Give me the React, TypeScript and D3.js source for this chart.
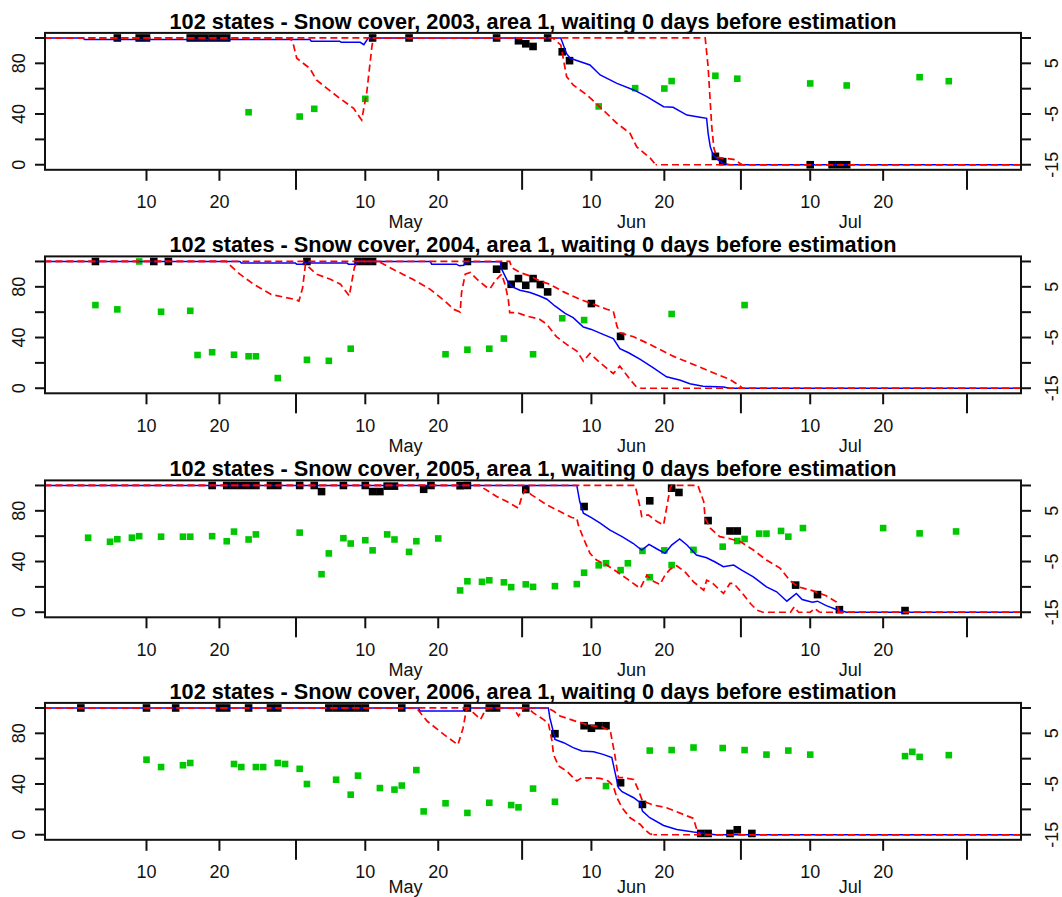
import React from "react";
import * as d3 from "d3";

// ---------- axis definitions ----------
// day index: 1 = 1 April
const monthStarts = [1, 31, 62, 92, 123];
const monthNames = ["Apr", "May", "Jun", "Jul", "Aug"];
const labelledMonths = ["May", "Jun", "Jul"];
const majorTickMonths = ["May", "Jun", "Jul", "Aug"];
const minorTickDays = [10, 20];
const leftTicks = [0, 20, 40, 60, 80, 100];
const leftLabels = [0, 40, 80];
const rightTicks = [-15, -10, -5, 0, 5, 10];
const rightLabels = [-15, -5, 5];
const years = [2003, 2004, 2005, 2006];

// ---------- 2003 ----------
const obs2003 = [[6,100],[9,100],[10,100],[16,100],[17,100],[18,100],[19,100],[20,100],[21,100],[41,100],[46,100],[58,100],[61,97.8],[62,95.4],[63,93.3],[65,100],[67,89.1],[68,82.1],[88,6.6],[89,2.4],[101,0],[104,0],[105,0],[106,0]];
const temp2003 = [[24,-4.65],[31,-5.5],[33,-3.97],[40,-2],[72,-3.5],[77,0.1],[81,0.03],[82,1.5],[88,2.55],[91,1.97],[101,1.03],[106,0.63],[116,2.27],[120,1.48]];
const est2003 = [[-4,100],[1.3,100],[1.5,98.8],[32.4,98.8],[32.6,97.4],[36.5,97.4],[36.7,96.6],[39.3,96.6],[39.8,94.7],[40.4,100],[66.8,100],[67.6,87.6],[68.1,84],[70.8,78.7],[72.2,70.8],[74.5,64.2],[76.8,59],[78.6,53.7],[80.9,45.8],[82.2,45.3],[84.1,39.2],[85.9,37.4],[86.8,36.6],[87,24.8],[87.3,14.2],[87.7,7.6],[88.4,3.7],[89.1,1],[90,0],[130,0]];
const upper2003 = [[-4,100],[86.6,100],[87,77.4],[87.5,30],[87.8,12.9],[88.2,5.8],[90.5,4.2],[91.4,1],[91.7,0],[130,0]];
const lower2003 = [[-4,100],[29.7,100],[30.1,95.8],[30.6,84],[32.4,76],[33.3,66.9],[34.7,60.4],[36.5,52.4],[38.4,44.5],[39.5,35.3],[40.2,57],[40.9,93],[41.1,100],[65.7,100],[66.8,94.5],[67.6,69.5],[68.5,62.9],[70.4,55],[72.6,43.2],[74.5,32.7],[76.3,24.8],[77.2,14.2],[79.1,5],[79.8,0],[130,0]];

// ---------- 2004 ----------
const obs2004 = [[3,100],[11,100],[13,100],[32,100],[39,100],[40,100],[41,100],[54,100],[58,93.9],[59,96.5],[60,82],[61,86.5],[62,81.2],[63,86.5],[64,81.8],[65,76],[71,66.8],[75,40.9]];
const temp2004 = [[3,1.4],[6,0.55],[9,10],[12,0.08],[16,0.27],[17,-8.45],[19,-7.9],[22,-8.4],[24,-8.7],[25,-8.7],[28,-13],[32,-9.4],[35,-9.6],[38,-7.2],[51,-8.3],[54,-7.4],[57,-7.2],[59,-5.2],[63,-8.3],[67,-1.2],[70,-1.55],[82,-0.36],[92,1.4]];
const est2004 = [[-4,100],[22.8,100],[23,98.7],[30.4,98.7],[30.6,97.9],[31.4,97.9],[31.6,98.7],[37.5,98.7],[37.7,97.9],[38.7,97.9],[38.9,100],[48.9,100],[49.1,97.9],[52.5,97.9],[52.9,96.6],[53.5,97],[53.8,99.7],[58.5,99.7],[58.7,93.9],[59.6,83.4],[60.1,80.2],[61.2,77.3],[62.6,75.5],[63.9,72.8],[64.9,70.2],[66,64.9],[67.4,59.1],[68.5,55.7],[69.9,48.3],[71,46.4],[72.6,42.5],[74,39.1],[74.9,31.2],[76.1,28],[77.7,22.7],[79.5,16.1],[81.3,9],[83.2,6.3],[84.5,3.5],[86.3,1.6],[89.1,1],[90,0],[130,0]];
const upper2004 = [[-4,100],[59.8,100],[60.1,95],[61.2,91.3],[62.6,88.6],[63.9,84.7],[65.3,82],[67.2,76],[69.4,70.2],[71.7,65.4],[73.1,62.3],[74,60.9],[74.5,49],[74.9,43.8],[76.8,40.6],[79.5,33.2],[82.2,25.3],[85,18.7],[87.7,12.2],[90,6.9],[91.4,1.6],[91.7,0],[130,0]];
const lower2004 = [[-4,100],[20.9,100],[22.8,90],[24.7,82],[27.1,74],[30.4,70],[30.9,68.8],[31.4,79],[31.8,97.9],[33.3,90],[35.2,86],[36.6,82],[37.8,72.8],[38.5,95.2],[38.9,100],[41.8,100],[44.2,92.6],[46.5,86],[48.9,78],[50.9,68.8],[52.1,62.3],[53,60.1],[53.2,75.6],[53.7,90],[54.4,91.3],[55.3,86],[56.7,79.4],[57.1,78.5],[57.8,84.7],[58.7,90],[59.2,81],[59.6,70.2],[59.8,59.6],[60.8,59.6],[62.1,57],[63.9,54.4],[64.9,50.4],[66.2,40.7],[67.6,34.6],[69,29.3],[69.9,21.4],[70.8,27.5],[72.2,20.1],[74,11.6],[74.9,17.4],[76.3,6.9],[77.2,0.8],[77.7,0],[130,0]];

// ---------- 2005 ----------
const obs2005 = [[19,100],[21,100],[22,100],[23,100],[24,100],[25,100],[27,100],[28,100],[31,100],[33,100],[34,95.2],[37,100],[40,100],[41,95.2],[42,95.2],[43,99.5],[44,99.5],[48,97],[49,100],[53,99.8],[54,100],[62,96.8],[70,83.4],[79,87.9],[82,97.9],[83,94.5],[87,72.3],[90,64.1],[91,64.1],[99,21.4],[102,13.9],[105,2],[114,1.3]];
const temp2005 = [[2,-0.3],[5,-1.1],[6,-0.6],[8,-0.3],[9,0],[12,-0.1],[15,-0.1],[16,-0.1],[19,0],[21,-1],[22,0.9],[24,-0.65],[25,0.35],[31,0.7],[34,-7.5],[35,-3.4],[37,-0.4],[38,-1.45],[40,-0.8],[41,-2.8],[43,0.35],[44,-0.65],[46,-3.1],[47,-1],[50,-0.45],[53,-10.7],[54,-8.9],[56,-9],[57,-8.7],[59,-9.1],[60,-10.05],[62,-9.5],[63,-10],[66,-9.85],[69,-9.45],[70,-7.2],[72,-5.75],[73,-5.35],[75,-6.7],[76,-5.35],[78,-2.9],[79,-8.1],[81,-2.8],[82,-5.7],[85,-2.7],[89,-2.07],[91,-0.95],[92,-0.55],[94,0.5],[95,0.5],[97,1.03],[98,-0.1],[100,1.6],[111,1.6],[116,0.55],[121,0.93]];
const est2005 = [[-4,100],[69,100],[69.4,87.3],[69.9,78.1],[71,74.7],[72.2,70.2],[73.5,64.9],[75.2,59.6],[76.7,54.4],[77.9,49.1],[78.9,53.6],[80,49.9],[81.1,46.5],[82,53],[83.1,57.8],[84.1,53],[85.4,45.1],[86.8,43],[87.9,39.8],[89.1,35.9],[90.5,37.2],[91.6,33.3],[93.2,27.9],[95,20],[96.4,16.1],[97.8,8.7],[99.1,14.8],[99.9,10],[101.3,7.9],[102,8.7],[103.2,5.2],[104.6,2.1],[106,0],[130,0]];
const upper2005 = [[-4,100],[77,100],[77.7,82],[77.9,75.5],[78.8,76.8],[80,71.5],[80.9,68.9],[81.3,82],[81.8,98],[82,100],[85.6,100],[86.4,87.3],[86.6,74.2],[87.3,66.3],[88.6,59.6],[90,58],[91.4,55.7],[93.2,49.1],[95,41.2],[96.9,34.6],[98.2,25],[99.4,20],[101.3,17],[103.2,13],[104.6,8],[104.9,1],[105.2,0],[130,0]];
const lower2005 = [[-4,100],[55.8,100],[56.2,97.9],[58,91.3],[59.4,87.3],[61,82.1],[61.4,90],[61.9,96.6],[62.8,92.6],[64.9,84.7],[66.7,79.4],[68.3,74.7],[69,74.2],[69.2,68.9],[69.9,58.4],[70.8,46.5],[71.7,41.2],[73.1,37.2],[74.5,31.9],[75.8,26.7],[77.7,18.8],[78.6,29.3],[79.5,24.5],[80.4,21.9],[81.1,29.3],[81.8,34],[82.7,36.7],[83.9,31.4],[85,24],[86.4,17.4],[86.8,25.3],[87.5,23.5],[89.1,14.8],[90,22.7],[90.5,22.7],[91.6,15.6],[92.8,6.9],[93.7,1.6],[94.5,0],[98.3,0],[98.8,4.2],[99.4,0],[101,0],[101.6,3],[102.3,0],[130,0]];

// ---------- 2006 ----------
const obs2006 = [[1,100],[10,100],[14,100],[20,100],[21,100],[24,100],[27,100],[28,100],[35,100],[36,100],[37,100],[38,100],[39,100],[40,100],[45,100],[54,100],[57,100],[58,100],[62,100],[66,79.7],[70,86],[71,84],[72,86],[73,86],[75,41],[78,23.9],[86,1],[87,1],[90,1],[91,3.9],[93,1]];
const temp2006 = [[10,-0.2],[12,-1.65],[15,-1.3],[16,-0.85],[22,-1.05],[23,-1.65],[25,-1.65],[26,-1.65],[28,-0.85],[29,-1.05],[31,-2],[32,-5],[36,-4.15],[38,-7.1],[39,-3.35],[42,-5.8],[44,-6.1],[45,-5.3],[47,-2.25],[48,-10.4],[51,-8.8],[54,-10.7],[57,-8.7],[60,-9.15],[61,-9.6],[63,-5.9],[66,-8.5],[73,-5.4],[79,1.6],[82,1.7],[85,2.2],[89,2.1],[92,1.7],[95,0.8],[98,1.6],[101,0.8],[114,0.5],[115,1.35],[116,0.35],[120,0.7]];
const est2006 = [[-4,100],[47.3,100],[47.5,97.6],[53.4,97.6],[53.6,100],[65.1,100],[65.3,92.3],[65.7,83.1],[66,75.2],[67.2,72.6],[68.5,68.7],[69.7,66],[71.3,65.5],[72.6,63.4],[73.8,60.8],[74,55.5],[74.4,45],[74.7,37.1],[75.2,33.9],[76.8,29.2],[77.7,25.3],[78,18.7],[79,13.4],[80.9,7.3],[82.7,4.2],[85,2.1],[86.8,0.8],[88,0],[130,0]];
const upper2006 = [[-4,100],[65,100],[65.8,97.6],[66.7,93.7],[68.5,90.2],[69.7,88],[71,86],[72.5,85],[73.6,81.8],[74.2,63.4],[74.7,45],[75.4,45],[76.8,43.6],[77.4,35.8],[78,26.6],[79.5,23.4],[81.3,21.3],[83.6,16],[85,12.9],[85.5,2.9],[86,0],[130,0]];
const lower2006 = [[-4,100],[47,100],[48.5,89.5],[50.8,79],[52.7,71],[53.4,84],[53.9,100],[54.6,97.4],[55.8,91],[56.5,98.7],[57,100],[60.3,100],[61,93.7],[61.7,100],[62.3,100],[63,96.3],[64.4,91],[65.1,88],[65.6,73.9],[65.8,63.4],[66.5,54.2],[67.6,50.3],[68.5,45],[69,42.4],[69.7,45],[72.2,44.5],[73.3,42.4],[74,38.4],[74.5,29.2],[75.2,21.3],[76.3,13.4],[77,10.8],[77.7,8.1],[78.3,4.2],[79,0.8],[79.5,0],[130,0]];

const obsByYear = [obs2003, obs2004, obs2005, obs2006];
const tempByYear = [temp2003, temp2004, temp2005, temp2006];
const estByYear = [est2003, est2004, est2005, est2006];
const upperByYear = [upper2003, upper2004, upper2005, upper2006];
const lowerByYear = [lower2003, lower2004, lower2005, lower2006];

// ---------- layout ----------
const W = 1062;
const H = 897;
const PLOT_L = 45;
const PLOT_R = 1021;
const PLOT_T = 32.9;
const PLOT_B = 169.8;
const panelOffsets = [0, 223.5, 447.5, 670];
const FONT = "'Liberation Sans', Arial, Helvetica, sans-serif";
const DASH = "7 4";
const DASH_PERIOD = 11;

const x = d3.scaleLinear().domain([-3.915, 129.9]).range([PLOT_L, PLOT_R]);

// split a bound series into its moving part and its final flat part at zero
function splitTail(pts: number[][]) {
  let k = pts.length - 1;
  while (k > 0 && pts[k - 1][1] === 0) k--;
  return { main: pts.slice(0, k + 1), tail: pts.slice(k) };
}

function Panel({ i }: { i: number }) {
  const off = panelOffsets[i];
  const y = d3.scaleLinear().domain([-4, 104]).range([PLOT_B + off, PLOT_T + off]);
  const yR = d3.scaleLinear().domain([-16, 11]).range([PLOT_B + off, PLOT_T + off]);
  const line = d3.line<number[]>().x((p) => x(p[0])).y((p) => y(p[1]));
  const clipId = `clip${i}`;
  const bs = 7.6;
  const gs = 6.6;

  const majors = majorTickMonths.map((m) => monthStarts[monthNames.indexOf(m)] - 0.5);
  const minors: { d: number; label: string }[] = [];
  monthStarts.forEach((s) => {
    minorTickDays.forEach((md) => {
      const d = s + md - 1;
      if (x(d) > PLOT_L && x(d) < PLOT_R) minors.push({ d, label: String(md) });
    });
  });
  const monthLabels = labelledMonths.map((m) => ({
    name: m,
    d: monthStarts[monthNames.indexOf(m)] - 0.5 + 15,
  }));
  const monthY = Math.min(228 + off, H - 4.5);

  const bounds = [upperByYear[i], lowerByYear[i]].map(splitTail);

  return (
    <g>
      <defs>
        <clipPath id={clipId}>
          <rect x={PLOT_L} y={PLOT_T + off} width={PLOT_R - PLOT_L} height={PLOT_B - PLOT_T} />
        </clipPath>
      </defs>
      <text
        x={(PLOT_L + PLOT_R) / 2}
        y={28.5 + off}
        textAnchor="middle"
        fontFamily={FONT}
        fontWeight="bold"
        fontSize={21.7}
        fill="#000"
      >
        {`102 states - Snow cover, ${years[i]}, area 1, waiting 0 days before estimation`}
      </text>
      <g clipPath={`url(#${clipId})`}>
        {tempByYear[i].map((p, k) => (
          <rect key={"g" + k} x={x(p[0]) - gs / 2} y={yR(p[1]) - gs / 2} width={gs} height={gs} fill="#00C800" />
        ))}
        {obsByYear[i].map((p, k) => (
          <rect key={"b" + k} x={x(p[0]) - bs / 2} y={y(p[1]) - bs / 2} width={bs} height={bs} fill="#000" />
        ))}
        <path d={line(estByYear[i] as number[][]) || ""} fill="none" stroke="#0000FF" strokeWidth={1.5} />
        {bounds.map((b, k) => {
          const x0 = x(b.tail[0][0]);
          const offset = (x0 - PLOT_L) % DASH_PERIOD;
          return (
            <g key={"bd" + k}>
              <path d={line(b.main) || ""} fill="none" stroke="#FF0000" strokeWidth={1.7} strokeDasharray={DASH} />
              <path
                d={line(b.tail) || ""}
                fill="none"
                stroke="#FF0000"
                strokeWidth={1.7}
                strokeDasharray={DASH}
                strokeDashoffset={offset}
              />
            </g>
          );
        })}
      </g>
      <rect
        x={PLOT_L}
        y={PLOT_T + off}
        width={PLOT_R - PLOT_L}
        height={PLOT_B - PLOT_T}
        fill="none"
        stroke="#111"
        strokeWidth={2}
      />
      {/* left axis */}
      {leftTicks.map((t) => (
        <line key={"lt" + t} x1={PLOT_L} x2={PLOT_L - 10} y1={y(t)} y2={y(t)} stroke="#111" strokeWidth={2} />
      ))}
      {leftLabels.map((t) => (
        <text
          key={"ll" + t}
          x={25.5}
          y={y(t)}
          transform={`rotate(-90, 25.5, ${y(t)})`}
          textAnchor="middle"
          fontFamily={FONT}
          fontSize={18}
          fill="#111"
        >
          {t}
        </text>
      ))}
      {/* right axis */}
      {rightTicks.map((t) => (
        <line key={"rt" + t} x1={PLOT_R} x2={PLOT_R + 10} y1={yR(t)} y2={yR(t)} stroke="#111" strokeWidth={2} />
      ))}
      {rightLabels.map((t) => (
        <text
          key={"rl" + t}
          x={1058}
          y={yR(t)}
          transform={`rotate(-90, 1058, ${yR(t)})`}
          textAnchor="middle"
          fontFamily={FONT}
          fontSize={18}
          fill="#111"
        >
          {t}
        </text>
      ))}
      {/* bottom axis */}
      {majors.map((d) => (
        <line key={"mj" + d} x1={x(d)} x2={x(d)} y1={PLOT_B + off} y2={PLOT_B + off + 20} stroke="#111" strokeWidth={2} />
      ))}
      {minors.map((m) => (
        <g key={"mn" + m.d}>
          <line x1={x(m.d)} x2={x(m.d)} y1={PLOT_B + off} y2={PLOT_B + off + 11} stroke="#111" strokeWidth={2} />
          <text x={x(m.d)} y={208 + off} textAnchor="middle" fontFamily={FONT} fontSize={18} fill="#111">
            {m.label}
          </text>
        </g>
      ))}
      {monthLabels.map((m) => (
        <text key={"ml" + m.name} x={x(m.d)} y={monthY} textAnchor="middle" fontFamily={FONT} fontSize={18} fill="#111">
          {m.name}
        </text>
      ))}
    </g>
  );
}

export default function App() {
  return (
    <div style={{ position: "absolute", left: 0, top: 0 }}>
      <svg width={W} height={H} viewBox={`0 0 ${W} ${H}`} style={{ display: "block", background: "#fff" }}>
        <rect x={0} y={0} width={W} height={H} fill="#fff" />
        {years.map((yr, i) => (
          <Panel key={yr} i={i} />
        ))}
      </svg>
    </div>
  );
}
